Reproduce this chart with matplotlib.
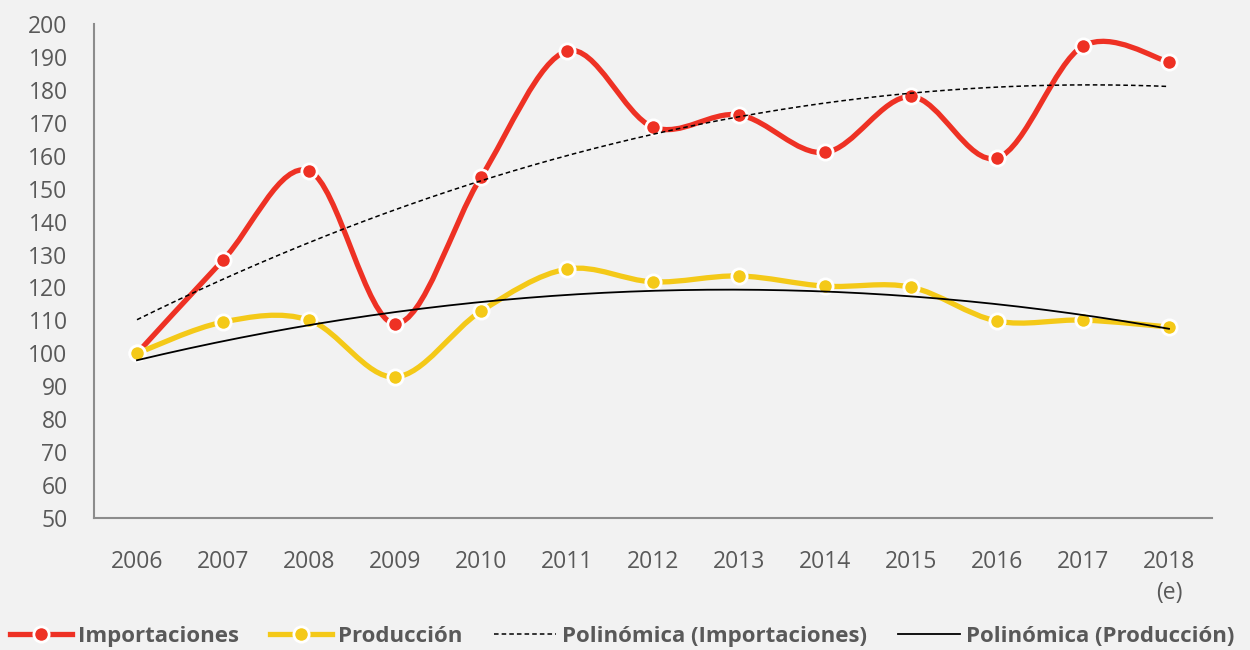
import numpy as np
import matplotlib
matplotlib.use("Agg")
import matplotlib.pyplot as plt
from matplotlib.path import Path
from matplotlib.patches import PathPatch
from matplotlib.lines import Line2D

anios = ["2006", "2007", "2008", "2009", "2010", "2011", "2012",
         "2013", "2014", "2015", "2016", "2017", "2018\n(e)"]
importaciones = [100, 128.3, 155.4, 109, 153.5, 191.8, 168.7, 172.4, 161, 178, 159.3, 193.3, 188.5]
produccion = [100, 109.5, 110.1, 92.8, 112.8, 125.6, 121.7, 123.5, 120.4, 120.1, 109.8, 110.1, 108]

ROJO, AMARILLO, GRIS_TXT, GRIS_EJE, FONDO = "#EE3124", "#F4C918", "#595959", "#8c8c8c", "#f2f2f2"

plt.rcParams.update({"font.family": ["Open Sans", "DejaVu Sans"], "font.size": 16})


def curva_suave(x, y):
    # bezier tipo Excel (Catmull-Rom) a partir de los puntos
    x, y = np.asarray(x, float), np.asarray(y, float)
    verts, codes = [(x[0], y[0])], [Path.MOVETO]
    n = len(x)
    for i in range(n - 1):
        i0, i2, i3 = max(i - 1, 0), i + 1, min(i + 2, n - 1)
        c1 = (x[i] + (x[i2] - x[i0]) / 6, y[i] + (y[i2] - y[i0]) / 6)
        c2 = (x[i2] - (x[i3] - x[i]) / 6, y[i2] - (y[i3] - y[i]) / 6)
        verts += [c1, c2, (x[i2], y[i2])]
        codes += [Path.CURVE4] * 3
    return Path(verts, codes)


fig = plt.figure(figsize=(12.5, 6.5), dpi=100, facecolor=FONDO)
ax = fig.add_axes([0.0752, 0.2031, 0.8944, 0.7599], facecolor=FONDO)
x = np.arange(len(anios))

for serie, color in [(importaciones, ROJO), (produccion, AMARILLO)]:
    ax.add_patch(PathPatch(curva_suave(x, serie), fill=False, edgecolor=color,
                           lw=3.8, capstyle="round", zorder=2))
    ax.plot(x, serie, ls="none", marker="o", ms=11, mfc=color, mec="white",
            mew=2, zorder=3)

# tendencias polinómicas (orden 2)
xx = np.linspace(x[0], x[-1], 200)
t_imp = np.polyval(np.polyfit(x, importaciones, 2), xx)
t_pro = np.polyval(np.polyfit(x, produccion, 2), xx)
ax.plot(xx, t_imp, color="black", lw=1.1, ls=(0, (3, 2)), zorder=4)
ax.plot(xx, t_pro, color="black", lw=1.3, zorder=4)

ax.set_xlim(-0.5, len(anios) - 0.5)
ax.set_ylim(50, 200)
ax.set_yticks(range(50, 201, 10))
ax.set_xticks(x)
ax.set_xticklabels(anios)
for lab in ax.get_xticklabels():
    lab.set_linespacing(1.4)
ax.tick_params(axis="both", length=0, colors=GRIS_TXT, labelsize=16.5)
ax.tick_params(axis="x", pad=23)
ax.tick_params(axis="y", pad=19)
for s in ["top", "right"]:
    ax.spines[s].set_visible(False)
for s in ["left", "bottom"]:
    ax.spines[s].set_color(GRIS_EJE)
    ax.spines[s].set_linewidth(1.5)

handles = [
    Line2D([], [], color=ROJO, lw=3.8, marker="o", ms=11, mfc=ROJO, mec="white", mew=2),
    Line2D([], [], color=AMARILLO, lw=3.8, marker="o", ms=11, mfc=AMARILLO, mec="white", mew=2),
    Line2D([], [], color="black", lw=1.1, ls=(0, (3, 2))),
    Line2D([], [], color="black", lw=1.3),
]
etiquetas = ["Importaciones", "Producción", "Polinómica (Importaciones)", "Polinómica (Producción)"]
fig.legend(handles, etiquetas, ncol=4, loc="center", bbox_to_anchor=(0.4976, 0.0215),
           frameon=False, handlelength=2.8, handletextpad=0.27, columnspacing=1.4,
           borderaxespad=0, prop={"weight": "bold", "size": 16}, labelcolor=GRIS_TXT)

fig.savefig("out.png", dpi=100, facecolor=FONDO)
